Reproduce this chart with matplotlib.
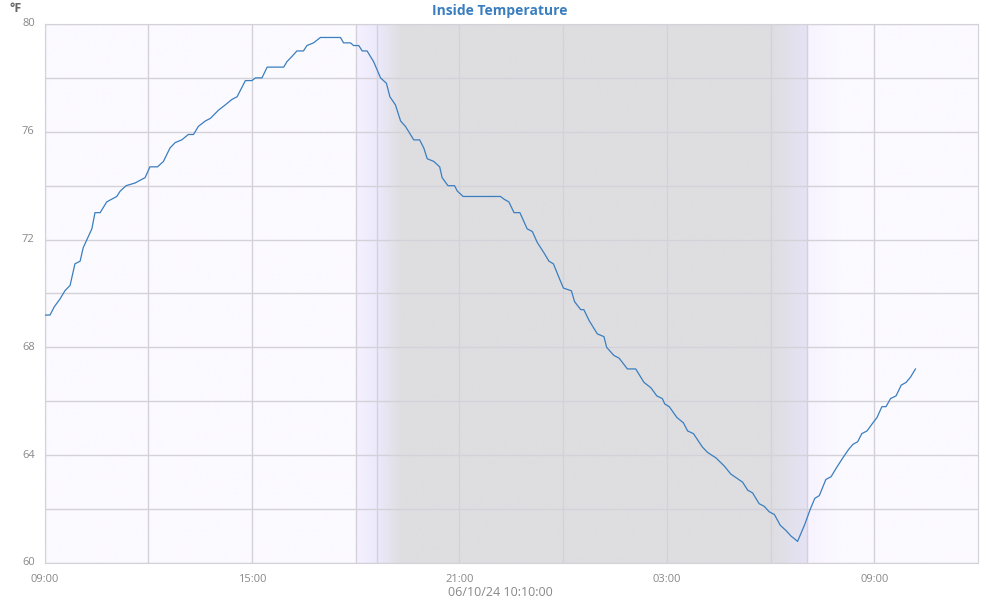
import matplotlib
matplotlib.use("Agg")
import matplotlib.pyplot as plt
import numpy as np

# hours after 09:00 on 06/09/24, inside temperature in °F
hours = [0.00, 0.16, 0.28, 0.45, 0.59, 0.74, 0.88, 1.03, 1.12, 1.37, 1.46, 1.61,
         1.80, 2.09, 2.19, 2.36, 2.62, 2.91, 3.05, 3.27, 3.44, 3.63, 3.78, 3.97,
         4.16, 4.31, 4.45, 4.65, 4.80, 5.03, 5.23, 5.42, 5.57, 5.81, 6.00, 6.10,
         6.29, 6.44, 6.92, 7.01, 7.16, 7.30, 7.49, 7.59, 7.78, 7.98, 8.56, 8.65,
         8.85, 8.94, 9.09, 9.19, 9.33, 9.52, 9.72, 9.89, 9.99, 10.15, 10.30, 10.44,
         10.68, 10.85, 10.97, 11.07, 11.26, 11.43, 11.50, 11.67, 11.86, 11.94, 12.11, 13.19,
         13.29, 13.43, 13.58, 13.75, 13.96, 14.11, 14.25, 14.45, 14.59, 14.72, 14.91, 15.01,
         15.24, 15.33, 15.51, 15.60, 15.75, 15.99, 16.18, 16.26, 16.47, 16.62, 16.86, 17.10,
         17.34, 17.54, 17.71, 17.87, 17.94, 18.07, 18.29, 18.48, 18.60, 18.77, 19.03, 19.18,
         19.42, 19.66, 19.85, 20.19, 20.34, 20.48, 20.67, 20.82, 20.96, 21.11, 21.28, 21.45,
         21.59, 21.69, 21.78, 21.98, 22.15, 22.28, 22.41, 22.60, 22.75, 22.89, 23.09, 23.25,
         23.38, 23.52, 23.64, 23.79, 23.96, 24.08, 24.22, 24.34, 24.47, 24.63, 24.78, 24.92,
         25.05, 25.19]
temps = [69.2, 69.2, 69.5, 69.8, 70.1, 70.3, 71.1, 71.2, 71.7, 72.4, 73.0, 73.0,
         73.4, 73.6, 73.8, 74.0, 74.1, 74.3, 74.7, 74.7, 74.9, 75.4, 75.6, 75.7,
         75.9, 75.9, 76.2, 76.4, 76.5, 76.8, 77.0, 77.2, 77.3, 77.9, 77.9, 78.0,
         78.0, 78.4, 78.4, 78.6, 78.8, 79.0, 79.0, 79.2, 79.3, 79.5, 79.5, 79.3,
         79.3, 79.2, 79.2, 79.0, 79.0, 78.6, 78.0, 77.8, 77.3, 77.0, 76.4, 76.2,
         75.7, 75.7, 75.4, 75.0, 74.9, 74.7, 74.3, 74.0, 74.0, 73.8, 73.6, 73.6,
         73.5, 73.4, 73.0, 73.0, 72.4, 72.3, 71.9, 71.5, 71.2, 71.1, 70.5, 70.2,
         70.1, 69.7, 69.4, 69.4, 69.0, 68.5, 68.4, 68.0, 67.7, 67.6, 67.2, 67.2,
         66.7, 66.5, 66.2, 66.1, 65.9, 65.8, 65.4, 65.2, 64.9, 64.8, 64.3, 64.1,
         63.9, 63.6, 63.3, 63.0, 62.7, 62.6, 62.2, 62.1, 61.9, 61.8, 61.4, 61.2,
         61.0, 60.9, 60.8, 61.4, 62.0, 62.4, 62.5, 63.1, 63.2, 63.5, 63.9, 64.2,
         64.4, 64.5, 64.8, 64.9, 65.2, 65.4, 65.8, 65.8, 66.1, 66.2, 66.6, 66.7,
         66.9, 67.2]

tick_hours = [0, 6, 12, 18, 24]
tick_labels = ["09:00", "15:00", "21:00", "03:00", "09:00"]
y_ticks = [60, 64, 68, 72, 76, 80]

# twilight / night band (hours after start) and their colours
band_stops = [0.0, 8.99, 9.0, 9.63, 10.30, 21.0, 22.04, 22.05, 23.0, 27.0]
band_colors = [(251, 250, 255), (251, 250, 255), (245, 241, 255), (236, 233, 251),
               (222, 222, 225), (222, 222, 225), (229, 227, 245), (248, 243, 255),
               (251, 250, 255), (251, 250, 255)]
sunset, sunrise = 9.63, 22.04

grid_c = "#d4d2d8"
text_c = "#888888"

fig = plt.figure(figsize=(10, 6), dpi=100)
ax = fig.add_axes([0.0445, 0.0617, 0.9335, 0.8983])

xs = np.linspace(0, 27, 2701)
cols = np.array(band_colors, dtype=float) / 255.0
img = np.stack([np.interp(xs, band_stops, cols[:, k]) for k in range(3)], axis=-1)
ax.imshow(img[np.newaxis, :, :], extent=[0, 27, 60, 80], aspect="auto",
          interpolation="bilinear", zorder=0)

ax.set_xlim(0, 27)
ax.set_ylim(60, 80)
ax.set_xticks(tick_hours)
ax.set_xticklabels(tick_labels)
ax.set_xticks(np.arange(3, 27, 6), minor=True)
ax.set_yticks(y_ticks)
ax.set_yticks(np.arange(62, 80, 4), minor=True)
ax.grid(True, which="both", color=grid_c, linewidth=1, zorder=1)
ax.set_axisbelow(False)
for x in (sunset, sunrise):
    ax.axvline(x, color=grid_c, linewidth=1, zorder=1)

ax.plot(hours, temps, color="#3a7ebf", linewidth=0.9, zorder=3)

ax.tick_params(which="both", length=0, labelsize=8, labelcolor=text_c)
ax.tick_params(axis="x", pad=8)
ax.tick_params(axis="y", pad=7)
for lab in ax.get_yticklabels():
    lab.set_verticalalignment("center")
for s in ax.spines.values():
    s.set_color(grid_c)

fig.text(0.5, 0.982, "Inside Temperature", ha="center", va="center",
         fontsize=10, fontweight="bold", color="#3a7ebf", family="Open Sans")
fig.text(0.010, 0.985, "°F", ha="left", va="center", fontsize=9,
         fontweight="bold", color="#666666", family="Open Sans")
fig.text(0.5, 0.012, "06/10/24 10:10:00", ha="center", va="center",
         fontsize=9, color=text_c, family="Open Sans")

for lab in ax.get_xticklabels() + ax.get_yticklabels():
    lab.set_family("Open Sans")

fig.savefig("out.png", dpi=100)
